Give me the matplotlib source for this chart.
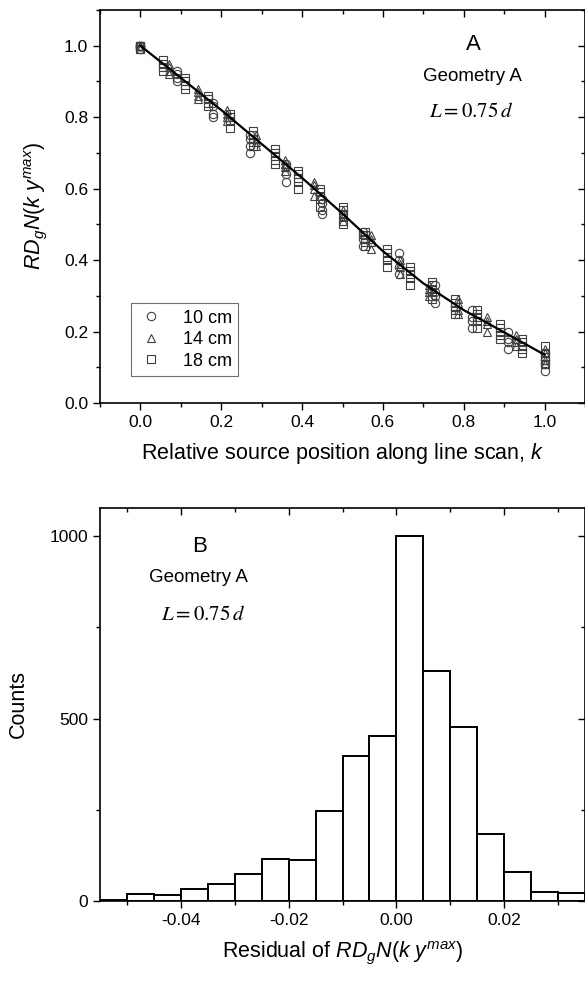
import numpy as np
import matplotlib
matplotlib.use('Agg')
import matplotlib.pyplot as plt
from matplotlib.ticker import MultipleLocator

plt.rcParams['font.family'] = ['Liberation Sans', 'DejaVu Sans']
plt.rcParams['mathtext.fontset'] = 'custom'
plt.rcParams['mathtext.rm'] = 'Liberation Sans'
plt.rcParams['mathtext.it'] = 'Liberation Sans:italic'

# ---- panel A: normalised response vs relative position ----
k_fit = [0.0, 0.1, 0.2, 0.3, 0.4, 0.5, 0.6, 0.7, 0.8, 0.9, 1.0]
y_fit = [1.0, 0.91, 0.82, 0.725, 0.63, 0.53, 0.425, 0.335, 0.26, 0.198, 0.135]

k_10 = [0.0, 0.09, 0.18, 0.27, 0.36, 0.45, 0.55, 0.64, 0.73, 0.82, 0.91, 1.0]
y_10 = [[1.0, 1.0, 0.99, 1.0],
        [0.92, 0.90, 0.91, 0.93],
        [0.84, 0.81, 0.83, 0.80],
        [0.75, 0.72, 0.70, 0.74],
        [0.66, 0.62, 0.64, 0.67],
        [0.57, 0.53, 0.54, 0.56],
        [0.48, 0.44, 0.46, 0.47],
        [0.42, 0.36, 0.38, 0.40],
        [0.33, 0.28, 0.30, 0.31],
        [0.26, 0.21, 0.23, 0.24],
        [0.20, 0.15, 0.17, 0.18],
        [0.14, 0.09, 0.11, 0.12]]

k_14 = [0.0, 0.071, 0.143, 0.214, 0.286, 0.357, 0.429, 0.5,
        0.571, 0.643, 0.714, 0.786, 0.857, 0.929, 1.0]
y_14 = [[1.0, 1.0, 0.99, 1.0],
        [0.94, 0.93, 0.92, 0.95],
        [0.88, 0.86, 0.85, 0.87],
        [0.81, 0.79, 0.80, 0.82],
        [0.75, 0.72, 0.73, 0.74],
        [0.68, 0.65, 0.66, 0.67],
        [0.61, 0.58, 0.60, 0.62],
        [0.54, 0.51, 0.52, 0.53],
        [0.47, 0.43, 0.45, 0.46],
        [0.40, 0.36, 0.38, 0.39],
        [0.33, 0.30, 0.31, 0.32],
        [0.28, 0.25, 0.26, 0.29],
        [0.23, 0.20, 0.22, 0.24],
        [0.19, 0.16, 0.17, 0.18],
        [0.14, 0.11, 0.12, 0.15]]

k_18 = [0.0, 0.056, 0.111, 0.167, 0.222, 0.278, 0.333, 0.389, 0.444, 0.5,
        0.556, 0.611, 0.667, 0.722, 0.778, 0.833, 0.889, 0.944, 1.0]
y_18 = [[1.0, 1.0, 1.0, 0.99, 1.0],
        [0.96, 0.95, 0.94, 0.93, 0.95],
        [0.91, 0.90, 0.89, 0.88, 0.90],
        [0.86, 0.85, 0.84, 0.83, 0.85],
        [0.81, 0.80, 0.79, 0.77, 0.80],
        [0.76, 0.75, 0.73, 0.72, 0.74],
        [0.71, 0.69, 0.68, 0.67, 0.70],
        [0.65, 0.64, 0.62, 0.60, 0.63],
        [0.60, 0.58, 0.57, 0.55, 0.59],
        [0.55, 0.53, 0.51, 0.50, 0.54],
        [0.48, 0.47, 0.45, 0.44, 0.46],
        [0.43, 0.41, 0.40, 0.38, 0.42],
        [0.38, 0.36, 0.35, 0.33, 0.37],
        [0.34, 0.32, 0.30, 0.29, 0.33],
        [0.29, 0.28, 0.26, 0.25, 0.27],
        [0.26, 0.24, 0.23, 0.21, 0.25],
        [0.22, 0.21, 0.19, 0.18, 0.20],
        [0.18, 0.17, 0.15, 0.14, 0.16],
        [0.16, 0.14, 0.12, 0.11, 0.13]]

# ---- panel B: histogram of residuals ----
bin_left = [-0.055, -0.05, -0.045, -0.04, -0.035, -0.03, -0.025, -0.02, -0.015,
            -0.01, -0.005, 0.0, 0.005, 0.01, 0.015, 0.02, 0.025, 0.03]
counts = [3, 18, 16, 32, 46, 73, 115, 113, 247,
          398, 452, 1000, 629, 478, 184, 79, 24, 21]
bin_width = 0.005


def flat(ks, ys):
    xs = []
    vs = []
    for k, vals in zip(ks, ys):
        xs += [k] * len(vals)
        vs += vals
    return xs, vs


def style_axes(ax):
    for s in ax.spines.values():
        s.set_linewidth(1.2)
    ax.tick_params(which='both', top=True, right=True, labelsize=12.5, width=1.0,
                   direction='out')
    ax.tick_params(which='major', length=5)
    ax.tick_params(which='minor', length=3)
    # top / right ticks point inward
    for t in ax.xaxis.get_major_ticks() + ax.xaxis.get_minor_ticks():
        t.tick2line.set_marker(3)
    for t in ax.yaxis.get_major_ticks() + ax.yaxis.get_minor_ticks():
        t.tick2line.set_marker(0)


fig = plt.figure(figsize=(5.85, 9.82), dpi=100)

ax1 = fig.add_axes([0.171, 0.5896, 0.829, 0.4002])
ax1.plot(k_fit, y_fit, color='black', lw=1.6, zorder=3)
mk = dict(linestyle='none', mfc='none', markersize=6, mew=0.8)
x, v = flat(k_10, y_10)
ax1.plot(x, v, marker='o', color='0.25', label='10 cm', **mk)
x, v = flat(k_14, y_14)
ax1.plot(x, v, marker='^', color='0.25', label='14 cm', **mk)
x, v = flat(k_18, y_18)
ax1.plot(x, v, marker='s', color='0.25', label='18 cm', **mk)

ax1.set_xlim(-0.1, 1.1)
ax1.set_ylim(0.0, 1.1)
ax1.xaxis.set_major_locator(MultipleLocator(0.2))
ax1.xaxis.set_minor_locator(MultipleLocator(0.1))
ax1.yaxis.set_major_locator(MultipleLocator(0.2))
ax1.yaxis.set_minor_locator(MultipleLocator(0.1))
ax1.set_xlabel('Relative source position along line scan, $k$', fontsize=15.5, labelpad=8)
ax1.set_ylabel('$RD_gN(k\\ y^{max})$', fontsize=15.5, labelpad=11)
style_axes(ax1)

leg = ax1.legend(loc='lower left', bbox_to_anchor=(0.064, 0.069), fontsize=13,
                 frameon=True, fancybox=False, borderaxespad=0, handletextpad=1.0,
                 labelspacing=0.25, borderpad=0.35, handlelength=1.5)
leg.get_frame().set_edgecolor('0.3')
leg.get_frame().set_linewidth(0.8)

ax1.text(0.769, 0.912, 'A', transform=ax1.transAxes, ha='center', va='center', fontsize=16)
ax1.text(0.767, 0.830, 'Geometry A', transform=ax1.transAxes, ha='center', va='center', fontsize=13.5)
ax1.text(0.765, 0.741, '$L = 0.75\\,d$', transform=ax1.transAxes, ha='center', va='center',
         fontsize=15, math_fontfamily='stix')

ax2 = fig.add_axes([0.171, 0.0825, 0.829, 0.4002])
ax2.bar(bin_left, counts, width=bin_width, align='edge', color='white',
        edgecolor='black', linewidth=1.4)
ax2.set_xlim(-0.055, 0.035)
ax2.set_ylim(0, 1077)
ax2.xaxis.set_major_locator(MultipleLocator(0.02))
ax2.xaxis.set_minor_locator(MultipleLocator(0.01))
ax2.yaxis.set_major_locator(MultipleLocator(500))
ax2.yaxis.set_minor_locator(MultipleLocator(250))
ax2.xaxis.set_major_formatter(matplotlib.ticker.FormatStrFormatter('%.2f'))
ax2.set_xlabel('Residual of $RD_gN(k\\ y^{max})$', fontsize=15.5, labelpad=8)
ax2.set_ylabel('Counts', fontsize=15.5, labelpad=15)
style_axes(ax2)

ax2.text(0.206, 0.903, 'B', transform=ax2.transAxes, ha='center', va='center', fontsize=16)
ax2.text(0.202, 0.824, 'Geometry A', transform=ax2.transAxes, ha='center', va='center', fontsize=13.5)
ax2.text(0.212, 0.728, '$L = 0.75\\,d$', transform=ax2.transAxes, ha='center', va='center',
         fontsize=15, math_fontfamily='stix')

fig.savefig('out.png', dpi=100)
